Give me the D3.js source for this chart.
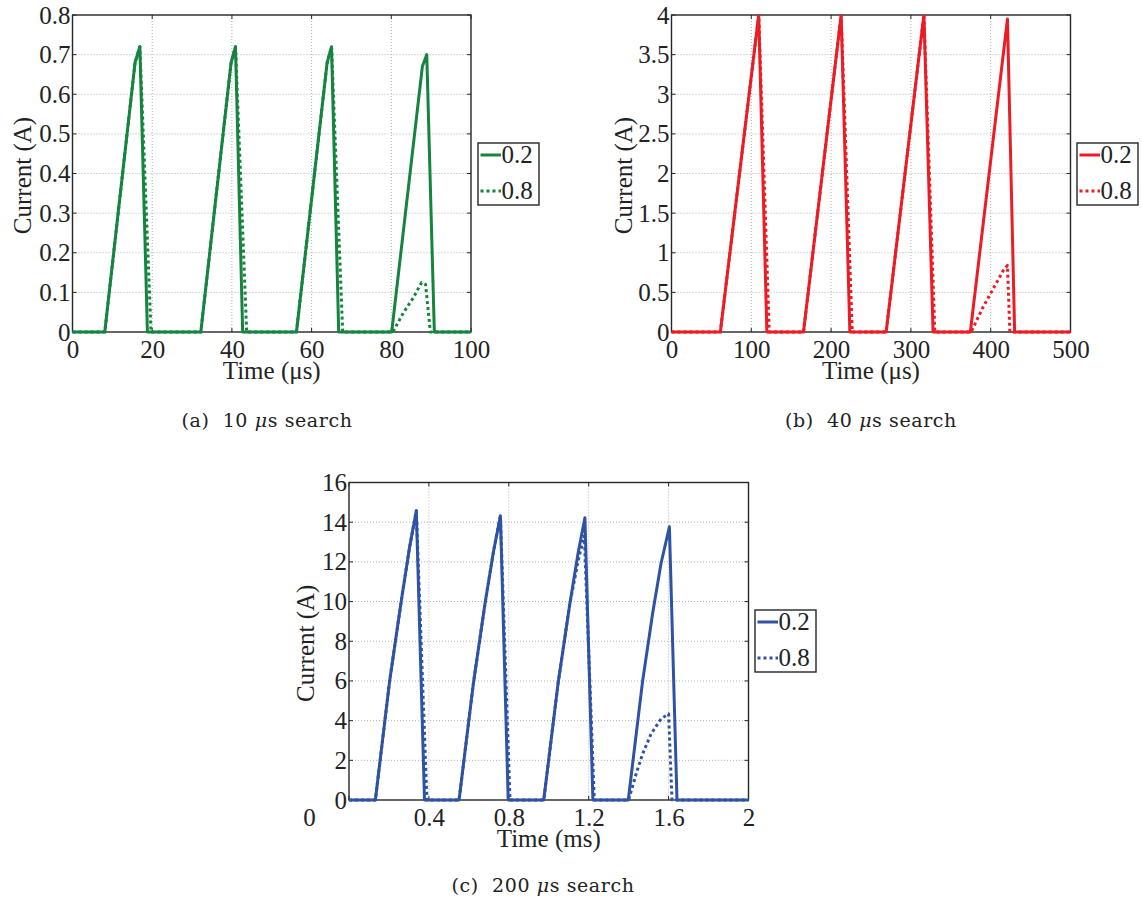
<!DOCTYPE html>
<html><head><meta charset="utf-8">
<script src="https://cdn.jsdelivr.net/npm/d3@7"></script>
<style>
body{margin:0;background:#fff;}
svg{display:block;}
text{white-space:pre;}
</style></head><body>
<svg id="chart" width="1142" height="903"></svg>
<script>
// ---------- Data ----------
const seriesNames = ["0.2", "0.8"];

// Panel (a) 10 µs search: [time µs, current A]
const aSeries02 = [[0,0],[8.1,0],[15.7,0.68],[16.9,0.72],[18.8,0],[32.2,0],[39.8,0.68],[40.9,0.72],[42.7,0],[56.2,0],[63.9,0.68],[65,0.72],[66.8,0],[80.1,0],[87.8,0.67],[88.9,0.70],[90.8,0],[100,0]];
const aSeries08 = [[0,0],[8.1,0],[15.7,0.68],[16.9,0.72],[19.7,0],[32.2,0],[39.8,0.68],[40.9,0.72],[43.7,0],[56.2,0],[63.9,0.68],[65,0.72],[67.8,0],[80.4,0],[83,0.048],[85.5,0.086],[87.6,0.125],[88.6,0.12],[89.8,0],[100,0]];
const aXTicks = [0,20,40,60,80,100];
const aXLabels = ["0","20","40","60","80","100"];
const aYTicks = [0,0.1,0.2,0.3,0.4,0.5,0.6,0.7,0.8];
const aYLabels = ["0","0.1","0.2","0.3","0.4","0.5","0.6","0.7","0.8"];

// Panel (b) 40 µs search: [time µs, current A]
const bSeries02 = [[0,0],[61.2,0],[109.3,4.0],[119.5,0],[165.4,0],[212.6,4.0],[223.5,0],[269,0],[316.3,4.0],[327.8,0],[374.5,0],[421,3.95],[430,0],[500,0]];
const bSeries08 = [[0,0],[61.2,0],[109.3,4.0],[122.5,0],[165.4,0],[212.6,4.0],[226.5,0],[269,0],[316.3,4.0],[330,0],[375.5,0],[390.7,0.32],[405,0.58],[416,0.78],[421,0.84],[424,0],[500,0]];
const bXTicks = [0,100,200,300,400,500];
const bXLabels = ["0","100","200","300","400","500"];
const bYTicks = [0,0.5,1,1.5,2,2.5,3,3.5,4];
const bYLabels = ["0","0.5","1","1.5","2","2.5","3","3.5","4"];

// Panel (c) 200 µs search: [time ms, current A]
const cSeries02 = [[0,0],[0.132,0],[0.2035,6.0],[0.262,10.05],[0.3035,12.75],[0.337,14.58],[0.378,0],[0.551,0],[0.623,5.9],[0.681,9.9],[0.723,12.5],[0.758,14.32],[0.797,0],[0.975,0],[1.047,5.9],[1.105,9.85],[1.147,12.45],[1.181,14.22],[1.221,0],[1.398,0],[1.47,6.0],[1.52,9.4],[1.562,11.92],[1.604,13.77],[1.642,0],[2,0]];
const cSeries08 = [[0,0],[0.132,0],[0.2035,6.0],[0.262,10.05],[0.3035,12.75],[0.337,14.58],[0.39,0],[0.551,0],[0.623,5.9],[0.681,9.9],[0.723,12.5],[0.758,14.32],[0.806,0],[0.975,0],[1.047,5.9],[1.105,9.85],[1.15,12.2],[1.178,13.3],[1.228,0],[1.4,0],[1.437,1.31],[1.47,2.32],[1.512,3.33],[1.562,4.09],[1.6,4.34],[1.617,0],[2,0]];
const cXTicks = [0,0.4,0.8,1.2,1.6,2];
const cXLabels = ["0","0.4","0.8","1.2","1.6","2"];
const cYTicks = [0,2,4,6,8,10,12,14,16];
const cYLabels = ["0","2","4","6","8","10","12","14","16"];

// ---------- Drawing ----------
const FONT = "'Liberation Serif','Times New Roman',serif";
const svg = d3.select("#chart");

function drawPanel(p){
  const g = svg.append("g");
  const x = d3.scaleLinear().domain(p.xDomain).range([p.left, p.right]);
  const y = d3.scaleLinear().domain(p.yDomain).range([p.bottom, p.top]);

  // grid
  g.append("g").selectAll("line")
    .data(p.xTicks.filter(v => v > p.xDomain[0] && v < p.xDomain[1]))
    .join("line")
    .attr("x1", d => x(d)).attr("x2", d => x(d))
    .attr("y1", p.top).attr("y2", p.bottom)
    .attr("stroke", "#b0b0b0").attr("stroke-width", 1).attr("stroke-dasharray", "1,2");
  g.append("g").selectAll("line")
    .data(p.yTicks.filter(v => v > p.yDomain[0] && v < p.yDomain[1]))
    .join("line")
    .attr("y1", d => y(d)).attr("y2", d => y(d))
    .attr("x1", p.left).attr("x2", p.right)
    .attr("stroke", "#b0b0b0").attr("stroke-width", 1).attr("stroke-dasharray", "1,2");

  // inward ticks on all sides
  const tk = 4;
  const tg = g.append("g").attr("stroke", "#262626").attr("stroke-width", 1);
  p.xTicks.forEach(v => {
    tg.append("line").attr("x1", x(v)).attr("x2", x(v)).attr("y1", p.bottom).attr("y2", p.bottom - tk);
    tg.append("line").attr("x1", x(v)).attr("x2", x(v)).attr("y1", p.top).attr("y2", p.top + tk);
  });
  p.yTicks.forEach(v => {
    tg.append("line").attr("y1", y(v)).attr("y2", y(v)).attr("x1", p.left).attr("x2", p.left + tk);
    tg.append("line").attr("y1", y(v)).attr("y2", y(v)).attr("x1", p.right).attr("x2", p.right - tk);
  });

  // frame
  g.append("rect")
    .attr("x", p.left).attr("y", p.top)
    .attr("width", p.right - p.left).attr("height", p.bottom - p.top)
    .attr("fill", "none").attr("stroke", "#262626").attr("stroke-width", 1.4);

  // clip
  const cid = "clip-" + p.id;
  svg.append("defs").append("clipPath").attr("id", cid)
    .append("rect").attr("x", p.left - 2).attr("y", p.top)
    .attr("width", p.right - p.left + 4).attr("height", p.bottom - p.top + 3);

  const line = d3.line().x(d => x(d[0])).y(d => y(d[1]));
  const lg = g.append("g").attr("clip-path", `url(#${cid})`);
  lg.append("path").attr("d", line(p.s08))
    .attr("fill", "none").attr("stroke", p.color).attr("stroke-width", 3)
    .attr("stroke-dasharray", "3,3").attr("stroke-linejoin", "round");
  lg.append("path").attr("d", line(p.s02))
    .attr("fill", "none").attr("stroke", p.color).attr("stroke-width", 3)
    .attr("stroke-linejoin", "round");

  // axes labels
  const xAxis = d3.axisBottom(x).tickValues(p.xTicks)
    .tickFormat((d, i) => p.xLabels[i]).tickSize(0).tickPadding(8.5);
  const xg = g.append("g").attr("transform", `translate(0,${p.bottom})`).call(xAxis);
  xg.select(".domain").remove();
  xg.selectAll("text").attr("font-family", FONT).attr("font-size", 25).attr("fill", "#222");
  if (p.zeroLabelX !== undefined) {
    xg.selectAll(".tick").filter(d => d === 0).select("text").attr("x", p.zeroLabelX - x(0));
  }

  const yAxis = d3.axisLeft(y).tickValues(p.yTicks)
    .tickFormat((d, i) => p.yLabels[i]).tickSize(0).tickPadding(2);
  const yg = g.append("g").attr("transform", `translate(${p.left},0)`).call(yAxis);
  yg.select(".domain").remove();
  yg.selectAll("text").attr("font-family", FONT).attr("font-size", 25).attr("fill", "#222");

  // titles
  g.append("text").attr("x", (p.left + p.right) / 2).attr("y", p.bottom + 47)
    .attr("text-anchor", "middle").attr("font-family", FONT).attr("font-size", 25).attr("fill", "#222")
    .text(p.xTitle);
  g.append("text")
    .attr("transform", `translate(${p.yTitleX},${(p.top + p.bottom) / 2 + 2}) rotate(-90)`)
    .attr("text-anchor", "middle").attr("font-family", FONT).attr("font-size", 25).attr("fill", "#222")
    .text("Current (A)");

  // legend
  const L = p.legend;
  const lgd = g.append("g");
  lgd.append("rect").attr("x", L.x).attr("y", L.y).attr("width", 61).attr("height", 62)
    .attr("fill", "#fff").attr("stroke", "#262626").attr("stroke-width", 1.4);
  seriesNames.forEach((name, i) => {
    const ly = L.y + 12 + i * 36;
    lgd.append("line").attr("x1", L.x + 2.5).attr("x2", L.x + 23).attr("y1", ly).attr("y2", ly)
      .attr("stroke", p.color).attr("stroke-width", 3)
      .attr("stroke-dasharray", i === 1 ? "3,3" : null);
    lgd.append("text").attr("x", L.x + 23.5).attr("y", ly + 7.5)
      .attr("font-family", FONT).attr("font-size", 25).attr("fill", "#222").text(name);
  });

  // caption
  const cap = g.append("text").attr("x", p.caption.x).attr("y", p.caption.y)
    .attr("text-anchor", "middle").attr("font-family", "'DejaVu Serif',serif")
    .attr("font-size", 19).attr("letter-spacing", 0.6).attr("fill", "#222");
  cap.append("tspan").text(p.caption.pre);
  cap.append("tspan").attr("font-style", "italic").text("\u03bc");
  cap.append("tspan").text("s search");
}

drawPanel({
  id: "a", left: 72.5, right: 471, top: 15, bottom: 332,
  xDomain: [0, 100], yDomain: [0, 0.8],
  xTicks: aXTicks, xLabels: aXLabels, yTicks: aYTicks, yLabels: aYLabels,
  s02: aSeries02, s08: aSeries08, color: "#14843f",
  xTitle: "Time (\u03bcs)", yTitleX: 31,
  legend: {x: 478, y: 143},
  caption: {x: 267, y: 427, pre: "(a)  10 "}
});
drawPanel({
  id: "b", left: 671.5, right: 1070.5, top: 15, bottom: 332,
  xDomain: [0, 500], yDomain: [0, 4],
  xTicks: bXTicks, xLabels: bXLabels, yTicks: bYTicks, yLabels: bYLabels,
  s02: bSeries02, s08: bSeries08, color: "#ec1c24",
  xTitle: "Time (\u03bcs)", yTitleX: 632,
  legend: {x: 1077, y: 143},
  caption: {x: 871, y: 427, pre: "(b)  40 "}
});
drawPanel({
  id: "c", left: 349, right: 748.5, top: 482.5, bottom: 800,
  xDomain: [0, 2], yDomain: [0, 16],
  xTicks: cXTicks, xLabels: cXLabels, yTicks: cYTicks, yLabels: cYLabels,
  s02: cSeries02, s08: cSeries08, color: "#2e53a5",
  xTitle: "Time (ms)", yTitleX: 314, zeroLabelX: 309,
  legend: {x: 755, y: 610},
  caption: {x: 543, y: 892, pre: "(c)  200 "}
});
</script>
</body></html>
